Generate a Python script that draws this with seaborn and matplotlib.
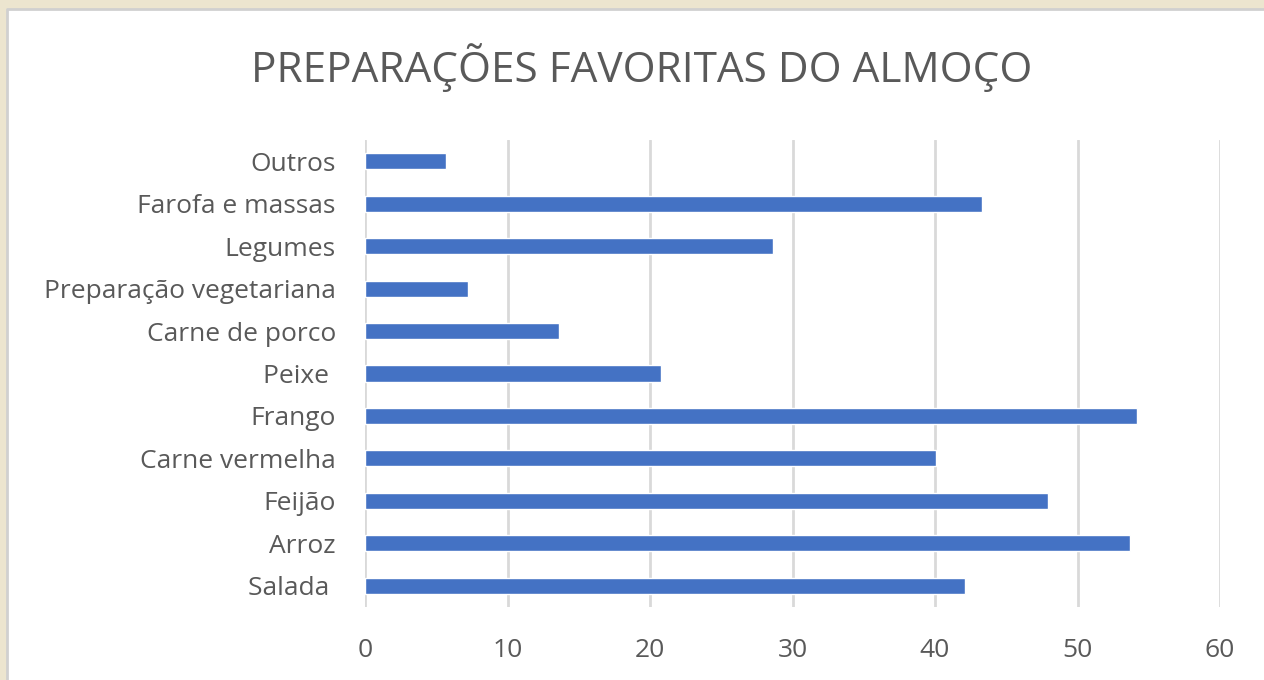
import matplotlib
matplotlib.use("Agg")
import matplotlib.pyplot as plt
import pandas as pd
import seaborn as sns
from matplotlib.patches import Rectangle
from matplotlib.lines import Line2D

# Dados (de cima para baixo)
preparacoes = ["Outros", "Farofa e massas", "Legumes", "Preparação vegetariana",
               "Carne de porco", "Peixe ", "Frango", "Carne vermelha",
               "Feijão", "Arroz", "Salada "]
valores = [5.7, 43.3, 28.6, 7.2, 13.6, 20.8, 54.2, 40.1, 47.9, 53.7, 42.1]
ticks_x = [0, 10, 20, 30, 40, 50, 60]

df = pd.DataFrame({"preparacao": preparacoes, "valor": valores})

sns.set_style("white")
plt.rcParams["font.family"] = ["Open Sans", "DejaVu Sans"]

cinza = "#595959"
fig = plt.figure(figsize=(12.64, 6.8), dpi=100)
fig.patch.set_facecolor("#ECE5CF")

# moldura branca do gráfico (só bordas esquerda e superior visíveis)
x0, y0 = 7 / 1264, 1 - 9 / 680
fig.patches.append(Rectangle((x0, 0), 1 - x0, y0, transform=fig.transFigure,
                             facecolor="white", edgecolor="none", zorder=-5))
fig.lines.append(Line2D([x0, x0, 1], [0, y0, y0], transform=fig.transFigure,
                        color="#D0D0D0", linewidth=2, zorder=-4))

ax = fig.add_axes([365 / 1264, 1 - 607 / 680, 855 / 1264, 467 / 680])
ax.set_facecolor("none")
sns.barplot(data=df, x="valor", y="preparacao", order=preparacoes,
            color="#4472C4", saturation=1, width=0.38, ax=ax)

ax.set_xlim(0, 60)
ax.set_ylim(10.5, -0.5)
ax.set_xticks(ticks_x)
ax.grid(axis="x", color="#D9D9D9", linewidth=2)
ax.set_axisbelow(True)
for s in ax.spines.values():
    s.set_visible(False)
ax.set_xlabel("")
ax.set_ylabel("")
ax.tick_params(axis="x", length=0, pad=22, labelsize=19, labelcolor=cinza)
ax.tick_params(axis="y", length=0, pad=21, labelsize=19, labelcolor=cinza)

fig.text(0.508, 1 - 68 / 680, "PREPARAÇÕES FAVORITAS DO ALMOÇO",
         ha="center", va="center", fontsize=30.5, color=cinza)

fig.savefig("out.png", dpi=100, facecolor=fig.get_facecolor())
